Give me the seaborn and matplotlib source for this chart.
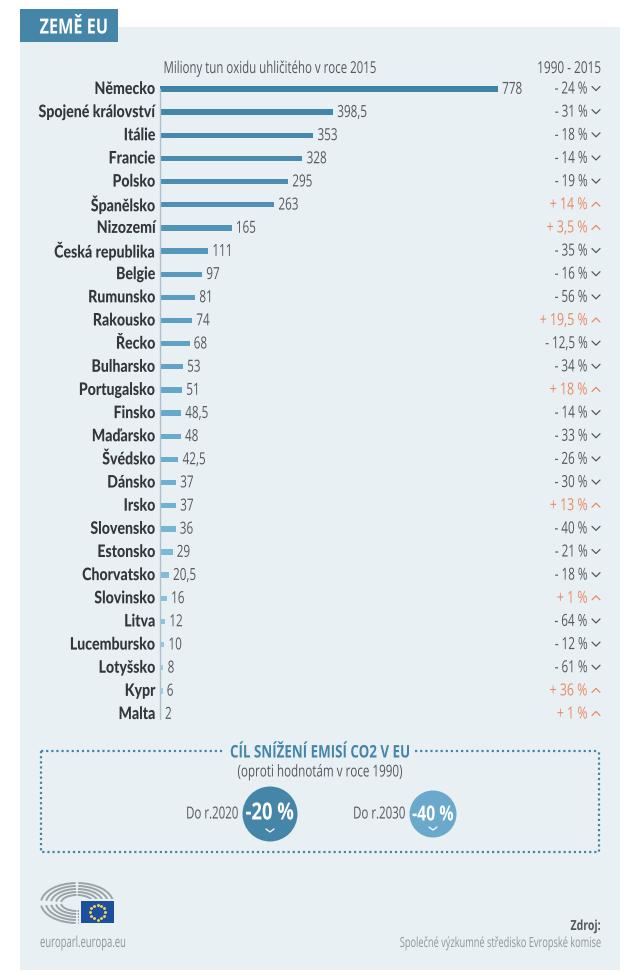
import numpy as np
import matplotlib
matplotlib.use('Agg')
import matplotlib.pyplot as plt
from matplotlib.patches import Rectangle, Circle, Arc
from matplotlib.patheffects import AbstractPathEffect
from matplotlib.transforms import Affine2D
import seaborn as sns

countries = ['Německo', 'Spojené království', 'Itálie', 'Francie', 'Polsko', 'Španělsko', 'Nizozemí',
             'Česká republika', 'Belgie', 'Rumunsko', 'Rakousko', 'Řecko', 'Bulharsko', 'Portugalsko',
             'Finsko', 'Maďarsko', 'Švédsko', 'Dánsko', 'Irsko', 'Slovensko', 'Estonsko', 'Chorvatsko',
             'Slovinsko', 'Litva', 'Lucembursko', 'Lotyšsko', 'Kypr', 'Malta']
emissions = [778, 398.5, 353, 328, 295, 263, 165, 111, 97, 81, 74, 68, 53, 51, 48.5, 48, 42.5, 37, 37,
             36, 29, 20.5, 16, 12, 10, 8, 6, 2]
emission_labels = ['778', '398,5', '353', '328', '295', '263', '165', '111', '97', '81', '74', '68', '53',
                   '51', '48,5', '48', '42,5', '37', '37', '36', '29', '20,5', '16', '12', '10', '8', '6', '2']
change_labels = ['- 24 %', '- 31 %', '- 18 %', '- 14 %', '- 19 %', '+ 14 %', '+ 3,5 %', '- 35 %', '- 16 %',
                 '- 56 %', '+ 19,5 %', '- 12,5 %', '- 34 %', '+ 18 %', '- 14 %', '- 33 %', '- 26 %', '- 30 %',
                 '+ 13 %', '- 40 %', '- 21 %', '- 18 %', '+ 1 %', '- 64 %', '- 12 %', '- 61 %', '+ 36 %', '+ 1 %']

BLUE = '#4586a8'
LIGHT_BLUE = '#6aa9cb'
PANEL = '#e9f0f4'
DARK = '#33363b'
GREY = '#55595e'
PALE = '#8d969c'
ORANGE = '#e98a62'
SX = 0.7


class Condense(AbstractPathEffect):
    # squeeze glyphs sideways, the chart uses a condensed face that is not installed
    def __init__(self, sx=SX, ha='left', dy=0):
        super().__init__()
        self.sx = sx
        self.ha = ha
        self.dy = dy

    def draw_path(self, renderer, gc, tpath, affine, rgbFace=None):
        w = tpath.get_extents(affine).width
        shift = {'left': 0, 'center': w * (1 - self.sx) / 2, 'right': w * (1 - self.sx)}[self.ha]
        squeezed = Affine2D().scale(self.sx, 1) + affine + Affine2D().translate(shift, self.dy)
        renderer.draw_path(gc, tpath, squeezed, rgbFace)


sns.set_theme(style='white')
plt.rcParams['font.family'] = ['Open Sans', 'DejaVu Sans']

fig = plt.figure(figsize=(6.4, 9.72), dpi=100, facecolor='white')

# pixel overlay for panel and furniture
bg = fig.add_axes([0, 0, 1, 1], zorder=0)
bg.set_xlim(0, 640)
bg.set_ylim(972, 0)
bg.axis('off')


def put(x, y, s, color=GREY, size=11.8, ha='center', weight='normal', sx=SX, zorder=5):
    t = bg.text(x, y, s, color=color, fontsize=size, ha=ha, va='center', fontweight=weight, zorder=zorder)
    t.set_path_effects([Condense(sx, ha)])
    return t


bg.add_patch(Rectangle((20, 27), 600, 943, color=PANEL, lw=0))
bg.add_patch(Rectangle((20, 9), 98, 33, color=BLUE, lw=0))
put(74, 28, 'ZEMĚ EU', color='white', size=15, weight='bold', sx=0.78)
put(270, 69, 'Miliony tun oxidu uhličitého v roce 2015')
put(569.5, 69, '1990 - 2015', sx=0.72)

# bars
row = 23.15
top = 89 - row / 2
bottom = top + 28 * row
ax = fig.add_axes([160 / 640, 1 - bottom / 972, 480 / 640, (bottom - top) / 972], zorder=2)
ax.patch.set_alpha(0)
sns.barplot(x=emissions, y=countries, color=BLUE, width=0.23, linewidth=0, ax=ax)
shades = sns.blend_palette(['#3f83a6', '#5a9dc0', '#6fb2d3', '#a3d3e8'], len(countries))
for bar, shade in zip(ax.patches, shades):
    bar.set_facecolor(shade)
ax.set_xlim(0, 480 / (338 / 778))
ax.set_ylim(27.5, -0.5)
for t in ax.bar_label(ax.containers[0], labels=emission_labels, padding=3, color=GREY, fontsize=12):
    t.set_path_effects([Condense(0.7, 'left')])
    t.xyann = (3, -0.6)
sns.despine(ax=ax, top=True, right=True, bottom=True)
ax.spines['left'].set_color('#aebfca')
ax.spines['left'].set_linewidth(1)
ax.spines['left'].set_bounds(0, 27.2)
ax.set_xticks([])
ax.tick_params(axis='y', length=0, pad=3)
for tick in ax.get_yticklabels():
    tick.set_family(['Lato', 'DejaVu Sans'])
    tick.set_fontweight('black')
    tick.set_fontsize(12.4)
    tick.set_color(DARK)
    tick.set_path_effects([Condense(0.82, 'right', dy=1.5)])

# 1990-2015 column with chevrons
for i, label in enumerate(change_labels):
    y = 89 + i * row
    up = label.startswith('+')
    c = ORANGE if up else GREY
    put(588, y + 0.5, label, color=c, size=12, ha='right', sx=0.74 if up else SX)
    d = -2 if up else 2
    bg.plot([592, 596, 600], [y - d - 0.5, y + d - 0.5, y - d - 0.5], color=c, lw=0.9, zorder=3)

# target box
dots = dict(color=BLUE, lw=1.6, ls=(0, (1, 1.3)))
bg.plot([41, 225], [751, 751], **dots)
bg.plot([415, 599], [751, 751], **dots)
bg.plot([41, 41, 599, 599], [751, 852, 852, 751], **dots)
put(320, 752.5, 'CÍL SNÍŽENÍ EMISÍ CO2 V EU', color=BLUE, size=12.5, weight='bold', sx=0.77)
put(320, 772.5, '(oproti hodnotám v roce 1990)', sx=0.71)

put(239, 814.5, 'Do r.2020', size=12, ha='right', sx=0.69)
bg.add_patch(Circle((270, 814), 27.5, color=BLUE, lw=0))
put(270, 813.5, '-20 %', color='white', size=17, weight='bold', sx=0.78)
bg.plot([266, 270, 274], [829, 832, 829], color='white', lw=0.9)

put(406, 814.5, 'Do r.2030', size=12, ha='right', sx=0.69)
bg.add_patch(Circle((433, 814), 23.5, color=LIGHT_BLUE, lw=0))
put(433, 815, '-40 %', color='white', size=15, weight='bold', sx=0.76)
bg.plot([429, 433, 437], [827, 830, 827], color='white', lw=0.9)

# parliament logo
for rx, ry in zip([36, 31, 26, 21, 16], [20, 17, 14, 11, 8]):
    for a1, a2 in [(4, 86), (94, 176), (184, 266), (274, 356)]:
        bg.add_patch(Arc((77, 903), 2 * rx, 2 * ry, theta1=a1, theta2=a2, color='#9aa3a8', lw=1.4))
bg.add_patch(Rectangle((79, 899), 37, 26, color=PANEL, lw=0, zorder=2))
bg.add_patch(Rectangle((81, 901), 33, 22, color='#1c4f9c', lw=0, zorder=3))
for k in range(12):
    t = np.pi * k / 6
    bg.plot(97.5 + 7.5 * np.cos(t), 912 + 7.5 * np.sin(t), 'o', ms=1.1, color='#f4d35e', zorder=4)

put(40, 943.5, 'europarl.europa.eu', color=PALE, size=11, ha='left', sx=0.62)
put(601, 926, 'Zdroj:', size=10, ha='right', weight='bold', sx=0.76)
put(601, 943.5, 'Společné výzkumné středisko Evropské komise', color=PALE, size=10, ha='right', sx=0.664)

fig.savefig('out.png', dpi=100, facecolor='white')
